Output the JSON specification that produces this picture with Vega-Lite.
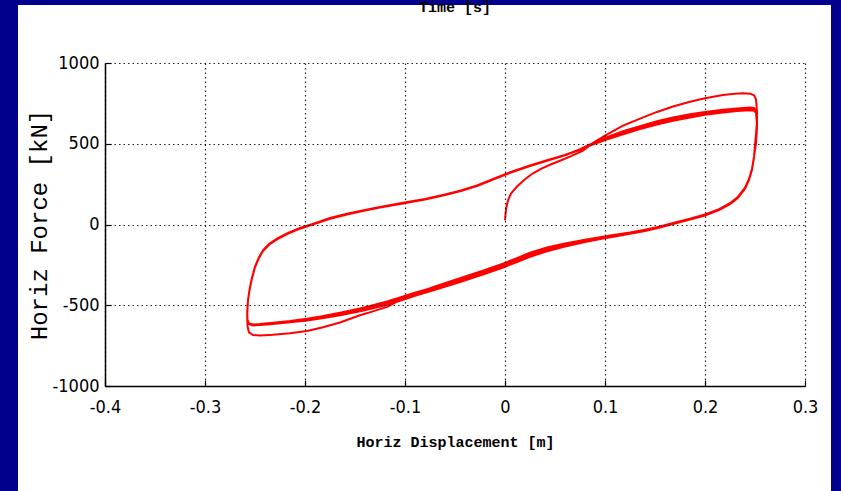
{
"$schema": "https://vega.github.io/schema/vega-lite/v6.json",
"width": 700,
"height": 323,
"autosize": {"type": "none"},
"padding": {"left": 105, "top": 63, "right": 36, "bottom": 105},
"background": "#00008c",
"title": {"text": "Time [s]", "font": "Liberation Mono", "fontSize": 15, "fontWeight": "bold", "color": "#000000", "anchor": "middle", "baseline": "bottom", "frame": "group", "offset": 0, "dy": 25, "zindex": 2},
"config": {
  "view": {"stroke": null},
  "axis": {"domainColor": "#000000", "domainWidth": 1.5, "tickColor": "#000000", "tickSize": -6, "tickWidth": 1.2, "gridColor": "#000000", "gridDash": [1.5, 3], "gridWidth": 1.2, "gridOpacity": 0.85, "labelFont": "Liberation Sans Narrow, DejaVu Sans Condensed, Liberation Sans", "labelFontSize": 18, "labelColor": "#000000", "titleFont": "Liberation Mono", "titleFontSize": 15, "titleFontWeight": "bold", "titleColor": "#000000", "labelFlush": false, "labelOverlap": false},
  "axisX": {"labelPadding": 18},
  "axisY": {"labelPadding": 12, "titleFontSize": 24, "titleFontWeight": "normal"}
},
"layer": [
  {
    "data": {"values": [{}]},
    "mark": {"type": "rect", "color": "#ffffff", "clip": false},
    "encoding": {
      "x": {"datum": -0.487, "type": "quantitative", "scale": {"domain": [-0.4, 0.3], "nice": false, "zero": false},
            "axis": {"title": "Horiz Displacement [m]", "values": [-0.4, -0.3, -0.2, -0.1, 0, 0.1, 0.2, 0.3], "labelExpr": "'' + datum.value", "grid": true, "zindex": 2, "titleX": 350, "titleY": 55, "titleBaseline": "middle", "titleAlign": "center"}},
      "x2": {"datum": 0.326},
      "y": {"datum": 1359, "type": "quantitative", "scale": {"domain": [-1000, 1000], "nice": false, "zero": false},
            "axis": {"title": "Horiz Force [kN]", "values": [-1000, -500, 0, 500, 1000], "labelExpr": "'' + datum.value", "grid": true, "zindex": 2, "titleX": -66, "titleY": 161.5, "titleAngle": 270, "titleAlign": "center", "titleBaseline": "middle"}},
      "y2": {"datum": -1650}
    }
  },
  {
    "data": {"values": [
{"i":1,"x":0.000,"f":25},{"i":2,"x":0.001,"f":95},{"i":3,"x":0.003,"f":150},{"i":4,"x":0.006,"f":192},{"i":5,"x":0.012,"f":235},{"i":6,"x":0.020,"f":280},{"i":7,"x":0.028,"f":317},{"i":8,"x":0.036,"f":345},{"i":9,"x":0.045,"f":370},{"i":10,"x":0.055,"f":395},{"i":11,"x":0.065,"f":420},{"i":12,"x":0.078,"f":458},{"i":13,"x":0.088,"f":505},{"i":14,"x":0.100,"f":550},{"i":15,"x":0.118,"f":612},{"i":16,"x":0.135,"f":656},{"i":17,"x":0.152,"f":697},{"i":18,"x":0.168,"f":731},{"i":19,"x":0.185,"f":760},{"i":20,"x":0.200,"f":782},{"i":21,"x":0.218,"f":802},{"i":22,"x":0.230,"f":809},{"i":23,"x":0.238,"f":812},{"i":24,"x":0.245,"f":810},{"i":25,"x":0.249,"f":800},{"i":26,"x":0.251,"f":775},
{"i":27,"x":0.252,"f":700},{"i":28,"x":0.252,"f":600},{"i":29,"x":0.251,"f":500},{"i":30,"x":0.249,"f":420},{"i":31,"x":0.247,"f":345},{"i":32,"x":0.244,"f":282},{"i":33,"x":0.240,"f":228},{"i":34,"x":0.233,"f":172},{"i":35,"x":0.225,"f":132},{"i":36,"x":0.214,"f":95},{"i":37,"x":0.200,"f":62},{"i":38,"x":0.185,"f":36},{"i":39,"x":0.170,"f":12},{"i":40,"x":0.155,"f":-12},{"i":41,"x":0.140,"f":-33},{"i":42,"x":0.125,"f":-50},{"i":43,"x":0.110,"f":-64},{"i":44,"x":0.098,"f":-76},{"i":45,"x":0.080,"f":-94},{"i":46,"x":0.060,"f":-117},{"i":47,"x":0.042,"f":-142},{"i":48,"x":0.025,"f":-175},{"i":49,"x":0.012,"f":-208},{"i":50,"x":-0.002,"f":-242},{"i":51,"x":-0.020,"f":-282},{"i":52,"x":-0.045,"f":-333},{"i":53,"x":-0.070,"f":-384},{"i":54,"x":-0.090,"f":-428},{"i":55,"x":-0.105,"f":-468},{"i":56,"x":-0.118,"f":-510},{"i":57,"x":-0.132,"f":-538},{"i":58,"x":-0.145,"f":-562},{"i":59,"x":-0.165,"f":-607},{"i":60,"x":-0.183,"f":-638},{"i":61,"x":-0.198,"f":-660},{"i":62,"x":-0.215,"f":-674},{"i":63,"x":-0.232,"f":-683},{"i":64,"x":-0.245,"f":-687},{"i":65,"x":-0.252,"f":-684},{"i":66,"x":-0.256,"f":-668},
{"i":67,"x":-0.2575,"f":-630},{"i":68,"x":-0.2578,"f":-560},{"i":69,"x":-0.257,"f":-470},{"i":70,"x":-0.2555,"f":-406},{"i":71,"x":-0.253,"f":-330},{"i":72,"x":-0.250,"f":-263},{"i":73,"x":-0.246,"f":-205},{"i":74,"x":-0.242,"f":-162},{"i":75,"x":-0.236,"f":-123},{"i":76,"x":-0.228,"f":-90},{"i":77,"x":-0.218,"f":-57},{"i":78,"x":-0.205,"f":-24},{"i":79,"x":-0.190,"f":6},{"i":80,"x":-0.175,"f":38},{"i":81,"x":-0.158,"f":64},{"i":82,"x":-0.140,"f":88},{"i":83,"x":-0.125,"f":107},{"i":84,"x":-0.102,"f":132},{"i":85,"x":-0.080,"f":156},{"i":86,"x":-0.062,"f":181},{"i":87,"x":-0.045,"f":207},{"i":88,"x":-0.028,"f":240},{"i":89,"x":-0.010,"f":285},{"i":90,"x":0.008,"f":328},{"i":91,"x":0.025,"f":364},{"i":92,"x":0.042,"f":397},{"i":93,"x":0.060,"f":430},{"i":94,"x":0.075,"f":467},{"i":95,"x":0.085,"f":496},{"i":96,"x":0.100,"f":536},{"i":97,"x":0.118,"f":577},{"i":98,"x":0.135,"f":609},{"i":99,"x":0.152,"f":639},{"i":100,"x":0.168,"f":662},{"i":101,"x":0.185,"f":682},{"i":102,"x":0.200,"f":697},{"i":103,"x":0.218,"f":711},{"i":104,"x":0.232,"f":719},{"i":105,"x":0.245,"f":724},{"i":106,"x":0.249,"f":721},{"i":107,"x":0.251,"f":705},
{"i":108,"x":0.252,"f":640},{"i":109,"x":0.251,"f":560},{"i":110,"x":0.250,"f":490},{"i":111,"x":0.249,"f":420},{"i":112,"x":0.247,"f":343},{"i":113,"x":0.244,"f":280},{"i":114,"x":0.240,"f":226},{"i":115,"x":0.233,"f":170},{"i":116,"x":0.225,"f":130},{"i":117,"x":0.214,"f":93},{"i":118,"x":0.200,"f":60},{"i":119,"x":0.185,"f":34},{"i":120,"x":0.170,"f":10},{"i":121,"x":0.155,"f":-14},{"i":122,"x":0.140,"f":-35},{"i":123,"x":0.125,"f":-52},{"i":124,"x":0.110,"f":-66},{"i":125,"x":0.098,"f":-78},{"i":126,"x":0.080,"f":-96},{"i":127,"x":0.060,"f":-120},{"i":128,"x":0.042,"f":-146},{"i":129,"x":0.025,"f":-180},{"i":130,"x":0.012,"f":-212},{"i":131,"x":-0.002,"f":-246},{"i":132,"x":-0.020,"f":-286},{"i":133,"x":-0.045,"f":-336},{"i":134,"x":-0.070,"f":-386},{"i":135,"x":-0.090,"f":-422},{"i":136,"x":-0.105,"f":-452},{"i":137,"x":-0.118,"f":-477},{"i":138,"x":-0.132,"f":-500},{"i":139,"x":-0.145,"f":-520},{"i":140,"x":-0.165,"f":-547},{"i":141,"x":-0.183,"f":-568},{"i":142,"x":-0.198,"f":-583},{"i":143,"x":-0.215,"f":-597},{"i":144,"x":-0.232,"f":-608},{"i":145,"x":-0.245,"f":-616},{"i":146,"x":-0.252,"f":-619},{"i":147,"x":-0.256,"f":-612},
{"i":148,"x":-0.2575,"f":-590},{"i":149,"x":-0.2578,"f":-540},{"i":150,"x":-0.257,"f":-468},{"i":151,"x":-0.2555,"f":-404},{"i":152,"x":-0.253,"f":-328},{"i":153,"x":-0.250,"f":-261},{"i":154,"x":-0.246,"f":-203},{"i":155,"x":-0.242,"f":-160},{"i":156,"x":-0.236,"f":-121},{"i":157,"x":-0.228,"f":-88},{"i":158,"x":-0.218,"f":-55},{"i":159,"x":-0.205,"f":-22},{"i":160,"x":-0.190,"f":8},{"i":161,"x":-0.175,"f":40},{"i":162,"x":-0.158,"f":66},{"i":163,"x":-0.140,"f":90},{"i":164,"x":-0.125,"f":109},{"i":165,"x":-0.102,"f":134},{"i":166,"x":-0.080,"f":158},{"i":167,"x":-0.062,"f":183},{"i":168,"x":-0.045,"f":209},{"i":169,"x":-0.028,"f":242},{"i":170,"x":-0.010,"f":287},{"i":171,"x":0.008,"f":330},{"i":172,"x":0.025,"f":366},{"i":173,"x":0.042,"f":398},{"i":174,"x":0.060,"f":430},{"i":175,"x":0.075,"f":465},{"i":176,"x":0.085,"f":492},{"i":177,"x":0.100,"f":529},{"i":178,"x":0.118,"f":567},{"i":179,"x":0.135,"f":599},{"i":180,"x":0.152,"f":627},{"i":181,"x":0.168,"f":650},{"i":182,"x":0.185,"f":670},{"i":183,"x":0.200,"f":686},{"i":184,"x":0.218,"f":700},{"i":185,"x":0.232,"f":709},{"i":186,"x":0.245,"f":714},{"i":187,"x":0.249,"f":712},{"i":188,"x":0.251,"f":698},
{"i":189,"x":0.252,"f":630},{"i":190,"x":0.251,"f":555},{"i":191,"x":0.250,"f":488},{"i":192,"x":0.249,"f":418},{"i":193,"x":0.247,"f":341},{"i":194,"x":0.244,"f":278},{"i":195,"x":0.240,"f":224},{"i":196,"x":0.233,"f":168},{"i":197,"x":0.225,"f":128},{"i":198,"x":0.214,"f":91},{"i":199,"x":0.200,"f":58},{"i":200,"x":0.185,"f":32},{"i":201,"x":0.170,"f":8},{"i":202,"x":0.155,"f":-16},{"i":203,"x":0.140,"f":-37},{"i":204,"x":0.125,"f":-55},{"i":205,"x":0.110,"f":-70},{"i":206,"x":0.098,"f":-82},{"i":207,"x":0.080,"f":-102},{"i":208,"x":0.060,"f":-128},{"i":209,"x":0.042,"f":-156},{"i":210,"x":0.025,"f":-190},{"i":211,"x":0.012,"f":-222},{"i":212,"x":-0.002,"f":-256},{"i":213,"x":-0.020,"f":-296},{"i":214,"x":-0.045,"f":-346},{"i":215,"x":-0.070,"f":-396},{"i":216,"x":-0.090,"f":-434},{"i":217,"x":-0.105,"f":-464},{"i":218,"x":-0.118,"f":-489},{"i":219,"x":-0.132,"f":-511},{"i":220,"x":-0.145,"f":-530},{"i":221,"x":-0.165,"f":-556},{"i":222,"x":-0.183,"f":-576},{"i":223,"x":-0.198,"f":-590},{"i":224,"x":-0.215,"f":-603},{"i":225,"x":-0.232,"f":-613},{"i":226,"x":-0.245,"f":-620},{"i":227,"x":-0.252,"f":-623},{"i":228,"x":-0.256,"f":-615},
{"i":229,"x":-0.2575,"f":-592},{"i":230,"x":-0.2578,"f":-545},{"i":231,"x":-0.257,"f":-472},{"i":232,"x":-0.2555,"f":-408},{"i":233,"x":-0.253,"f":-332},{"i":234,"x":-0.250,"f":-265},{"i":235,"x":-0.246,"f":-207},{"i":236,"x":-0.242,"f":-164},{"i":237,"x":-0.236,"f":-125},{"i":238,"x":-0.228,"f":-92},{"i":239,"x":-0.218,"f":-59},{"i":240,"x":-0.205,"f":-26},{"i":241,"x":-0.190,"f":4},{"i":242,"x":-0.175,"f":36},{"i":243,"x":-0.158,"f":62},{"i":244,"x":-0.140,"f":86},{"i":245,"x":-0.125,"f":105},{"i":246,"x":-0.102,"f":130},{"i":247,"x":-0.080,"f":154},{"i":248,"x":-0.062,"f":179},{"i":249,"x":-0.045,"f":205},{"i":250,"x":-0.028,"f":238},{"i":251,"x":-0.010,"f":283},{"i":252,"x":0.008,"f":326},{"i":253,"x":0.025,"f":362},{"i":254,"x":0.042,"f":395},{"i":255,"x":0.060,"f":428},{"i":256,"x":0.075,"f":462},{"i":257,"x":0.085,"f":488},{"i":258,"x":0.100,"f":523},{"i":259,"x":0.118,"f":559},{"i":260,"x":0.135,"f":591},{"i":261,"x":0.152,"f":619},{"i":262,"x":0.168,"f":642},{"i":263,"x":0.185,"f":662},{"i":264,"x":0.200,"f":679},{"i":265,"x":0.218,"f":693},{"i":266,"x":0.232,"f":703},{"i":267,"x":0.245,"f":708},{"i":268,"x":0.249,"f":706},{"i":269,"x":0.251,"f":692},
{"i":270,"x":0.252,"f":620},{"i":271,"x":0.251,"f":550},{"i":272,"x":0.250,"f":485},{"i":273,"x":0.249,"f":416},{"i":274,"x":0.247,"f":339},{"i":275,"x":0.244,"f":276},{"i":276,"x":0.240,"f":222},{"i":277,"x":0.233,"f":166},{"i":278,"x":0.225,"f":126},{"i":279,"x":0.214,"f":89},{"i":280,"x":0.200,"f":56},{"i":281,"x":0.185,"f":30},{"i":282,"x":0.170,"f":6},{"i":283,"x":0.155,"f":-18},{"i":284,"x":0.140,"f":-40},{"i":285,"x":0.125,"f":-58},{"i":286,"x":0.110,"f":-74},{"i":287,"x":0.098,"f":-87},{"i":288,"x":0.080,"f":-108},{"i":289,"x":0.060,"f":-136},{"i":290,"x":0.042,"f":-166},{"i":291,"x":0.025,"f":-200},{"i":292,"x":0.012,"f":-232},{"i":293,"x":-0.002,"f":-266},{"i":294,"x":-0.020,"f":-306},{"i":295,"x":-0.045,"f":-356},{"i":296,"x":-0.070,"f":-404},{"i":297,"x":-0.090,"f":-442},{"i":298,"x":-0.105,"f":-472},{"i":299,"x":-0.118,"f":-497},{"i":300,"x":-0.132,"f":-519},{"i":301,"x":-0.145,"f":-537},{"i":302,"x":-0.165,"f":-562},{"i":303,"x":-0.183,"f":-581},{"i":304,"x":-0.198,"f":-594},{"i":305,"x":-0.215,"f":-606},{"i":306,"x":-0.232,"f":-616},{"i":307,"x":-0.245,"f":-622},{"i":308,"x":-0.252,"f":-625},{"i":309,"x":-0.256,"f":-617}
    ]},
    "mark": {"type": "line", "color": "#ff0000", "strokeWidth": 2, "clip": true},
    "encoding": {
      "x": {"field": "x", "type": "quantitative",
            "axis": {"title": "Horiz Displacement [m]", "values": [-0.4, -0.3, -0.2, -0.1, 0, 0.1, 0.2, 0.3], "labelExpr": "'' + datum.value", "grid": true, "zindex": 2, "titleX": 350, "titleY": 55, "titleBaseline": "middle", "titleAlign": "center"}},
      "y": {"field": "f", "type": "quantitative",
            "axis": {"title": "Horiz Force [kN]", "values": [-1000, -500, 0, 500, 1000], "labelExpr": "'' + datum.value", "grid": true, "zindex": 2, "titleX": -66, "titleY": 161.5, "titleAngle": 270, "titleAlign": "center", "titleBaseline": "middle"}},
      "order": {"field": "i", "type": "quantitative"}
    }
  }
]
}
